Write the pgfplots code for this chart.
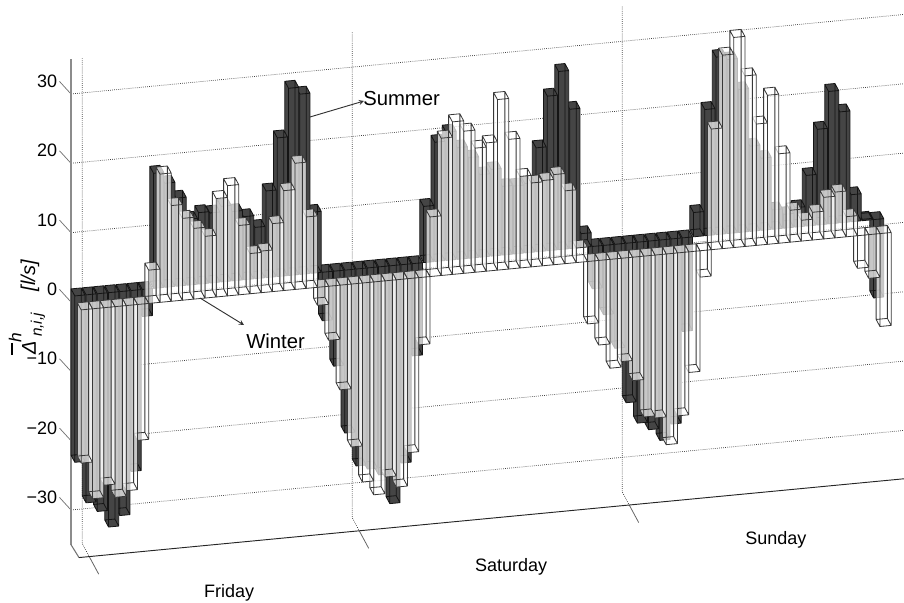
\documentclass[border=0pt]{standalone}
\usepackage{fontspec}
\setmainfont{Liberation Sans}
\usepackage{pgfplots}
\usepackage{pgfplotstable}
\pgfplotsset{compat=1.18}

\definecolor{darkbar}{gray}{0.27}
\definecolor{edgedark}{gray}{0.08}
\definecolor{edgewhite}{gray}{0.22}

% hourly values, l/s
\pgfplotstableread{
hour summer winter
1 -24.0 -22.1
2 -30.0 -27.4
3 -31.4 -25.6
4 -33.8 -27.5
5 -32.3 -26.7
6 -26.1 -19.6
7 -3.9 4.8
8 16.6 18.5
9 15.0 13.8
10 12.7 11.8
11 9.5 10.2
12 10.3 8.9
13 10.1 14.2
14 10.9 15.9
15 10.0 10.0
16 9.1 5.8
17 7.4 6.0
18 12.5 9.8
19 20.0 14.4
20 27.0 18.2
21 26.0 10.3
22 8.8 -2.6
23 -7.0 -7.8
24 -13.7 -15.1
25 -23.5 -23.5
26 -28.4 -28.7
27 -29.0 -30.7
28 -30.0 -28.3
29 -34.3 -29.9
30 -28.6 -25.1
31 -13.3 -9.7
32 8.1 8.6
33 17.2 19.8
34 18.5 22.0
35 16.1 20.5
36 14.5 17.9
37 11.9 18.5
38 12.5 24.6
39 9.9 18.7
40 9.8 13.2
41 10.0 12.1
42 15.0 12.3
43 22.3 13.0
44 25.7 10.5
45 20.1 2.1
46 2.0 -9.0
47 -6.1 -12.2
48 -10.0 -15.7
49 -15.0 -14.9
50 -23.0 -17.8
51 -26.1 -23.2
52 -27.2 -23.5
53 -28.9 -27.5
54 -26.7 -23.5
55 -13.5 -17.4
56 3.5 -3.8
57 18.2 17.4
58 25.6 27.9
59 25.1 30.3
60 20.6 24.6
61 12.3 17.5
62 10.4 21.5
63 2.8 12.9
64 2.0 4.6
65 2.8 3.0
66 7.3 4.0
67 13.8 6.0
68 19.1 6.6
69 16.0 2.9
70 3.9 -4.7
71 0.2 -6.3
72 -11.3 -13.4
}\bardata

% #1 hour, #2 column, #3 x offset, #4 front y, #5 back y, #6 plot style
\newcommand\hourbar[6]{%
  \pgfmathtruncatemacro\rowidx{#1-1}%
  \pgfplotstablegetelem{\rowidx}{#2}\of\bardata
  \let\val\pgfplotsretval
  \pgfmathsetmacro\hi{max(0,\val)}%
  \pgfmathsetmacro\lo{min(0,\val)}%
  \pgfmathsetmacro\xa{#1-0.5+#3}%
  \pgfmathsetmacro\xb{#1+0.5}%
  \edef\temp{\noexpand\addplot3[#6,forget plot] coordinates {
    (\xa,#4,\lo) (\xb,#4,\lo) (\xb,#4,\hi) (\xa,#4,\hi) (\xa,#4,\lo) (\xa,#4,nan)
    (\xa,#5,\lo) (\xa,#4,\lo) (\xa,#4,\hi) (\xa,#5,\hi) (\xa,#5,\lo) (\xa,#5,nan)
    (\xa,#4,\hi) (\xb,#4,\hi) (\xb,#5,\hi) (\xa,#5,\hi) (\xa,#4,\hi) (\xa,#4,nan)
    (\xa,#5,\lo) (\xb,#5,\lo) (\xb,#4,\lo) (\xb,#5,\lo) (\xb,#5,\hi) (\xb,#5,\lo) (\xa,#5,\lo)
  };}\temp
}

\begin{document}
\begin{tikzpicture}
\path[use as bounding box] (0,0) rectangle (678pt,452.25pt);
\begin{axis}[
    at={(53.25pt,225.75pt)},
    anchor=origin,
    x={(8.4375pt,0.806pt)},
    y={(5.25pt,-9.75pt)},
    z={(0pt,5.2pt)},
    xmin=0, xmax=74.04,
    ymin=-1.2, ymax=5,
    zmin=-35, zmax=35,
    hide axis,
    clip=false,
    unbounded coords=jump,
    every axis plot/.append style={mark=none, line join=round},
]
% back wall grid
\pgfplotsinvokeforeach{-30,-20,...,30}{
  \addplot3[black!75, densely dotted, line width=0.55pt, forget plot] coordinates {(0,0,#1) (74.04,0,#1)};
  \addplot3[black!55, line width=0.55pt, forget plot] coordinates {(0,0,#1) (-0.4,-1,#1)};
}
\pgfplotsinvokeforeach{1,25,49}{
  \addplot3[black!75, densely dotted, line width=0.55pt, forget plot] coordinates {(#1,0,35) (#1,0,-35) (#1,1,-35)};
  \addplot3[black!60, line width=0.6pt, forget plot] coordinates {(#1,1,-35) (#1,2.35,-35)};
}
% box edges
\addplot3[black!45, line width=1.1pt, forget plot] coordinates {(0,0,35) (0,0,-35)};
\addplot3[black!55, line width=0.8pt, forget plot] coordinates {(0,0,-35) (0.09,1,-35)};
\addplot3[black!85, line width=0.7pt, forget plot] coordinates {(0.09,1,-35) (74,1,-35)};
% back row
\foreach \i in {72,71,...,1} {
  \hourbar{\i}{summer}{0.1}{-0.418}{-0.958}{fill=darkbar, draw=edgedark, line width=0.6pt}
}
% front row, see-through
\foreach \i in {72,71,...,1} {
  \hourbar{\i}{winter}{0}{0.648}{0.108}{fill=white, fill opacity=0.7, draw=edgewhite, line width=0.6pt}
}
% tick labels
\foreach \v/\t in {30/30,20/20,10/10,0/0,-10/−10,-20/−20,-30/−30} {
  \edef\temp{\noexpand\node[anchor=east, font=\noexpand\fontsize{13.5}{16}\noexpand\selectfont, inner sep=0pt, xshift=-1.5pt] at (axis cs:-0.4,-1,\v) {\t};}\temp
}
\node[font=\fontsize{13.5}{16}\selectfont] at (axis cs:11.2,4.6,-35) {Friday};
\node[font=\fontsize{13.5}{16}\selectfont] at (axis cs:36.2,4.7,-35) {Saturday};
\node[font=\fontsize{13.5}{16}\selectfont] at (axis cs:59.8,4.6,-35) {Sunday};
\end{axis}
\begin{scope}[x=0.75pt, y=-0.75pt, yshift=452.25pt]
  \draw[black!80, line width=0.7pt, -stealth] (310,117) -- (364,101);
  \node[anchor=west, inner sep=0pt, font=\fontsize{15.2}{18}\selectfont] at (363,99) {Summer};
  \draw[black!80, line width=0.7pt, -stealth] (200,298) -- (244,325);
  \node[anchor=west, inner sep=0pt, font=\fontsize{15.2}{18}\selectfont] at (246,341) {Winter};
  % axis name, set sideways
  \node[rotate=90, inner sep=0pt, font=\fontsize{15}{18}\selectfont\itshape] at (30,276) {[l/s]};
  \node[rotate=90, inner sep=0pt, font=\fontsize{15}{18}\selectfont\itshape] at (29,348) {Δ};
  \node[rotate=90, inner sep=0pt, font=\fontsize{11.5}{14}\selectfont\itshape] at (38,325) {n,i,j};
  \node[rotate=90, inner sep=0pt, font=\fontsize{13}{15}\selectfont\itshape] at (15,338) {h};
  \draw[black, line width=0.8pt] (12,343) -- (12,355);
\end{scope}
\end{tikzpicture}
\end{document}
